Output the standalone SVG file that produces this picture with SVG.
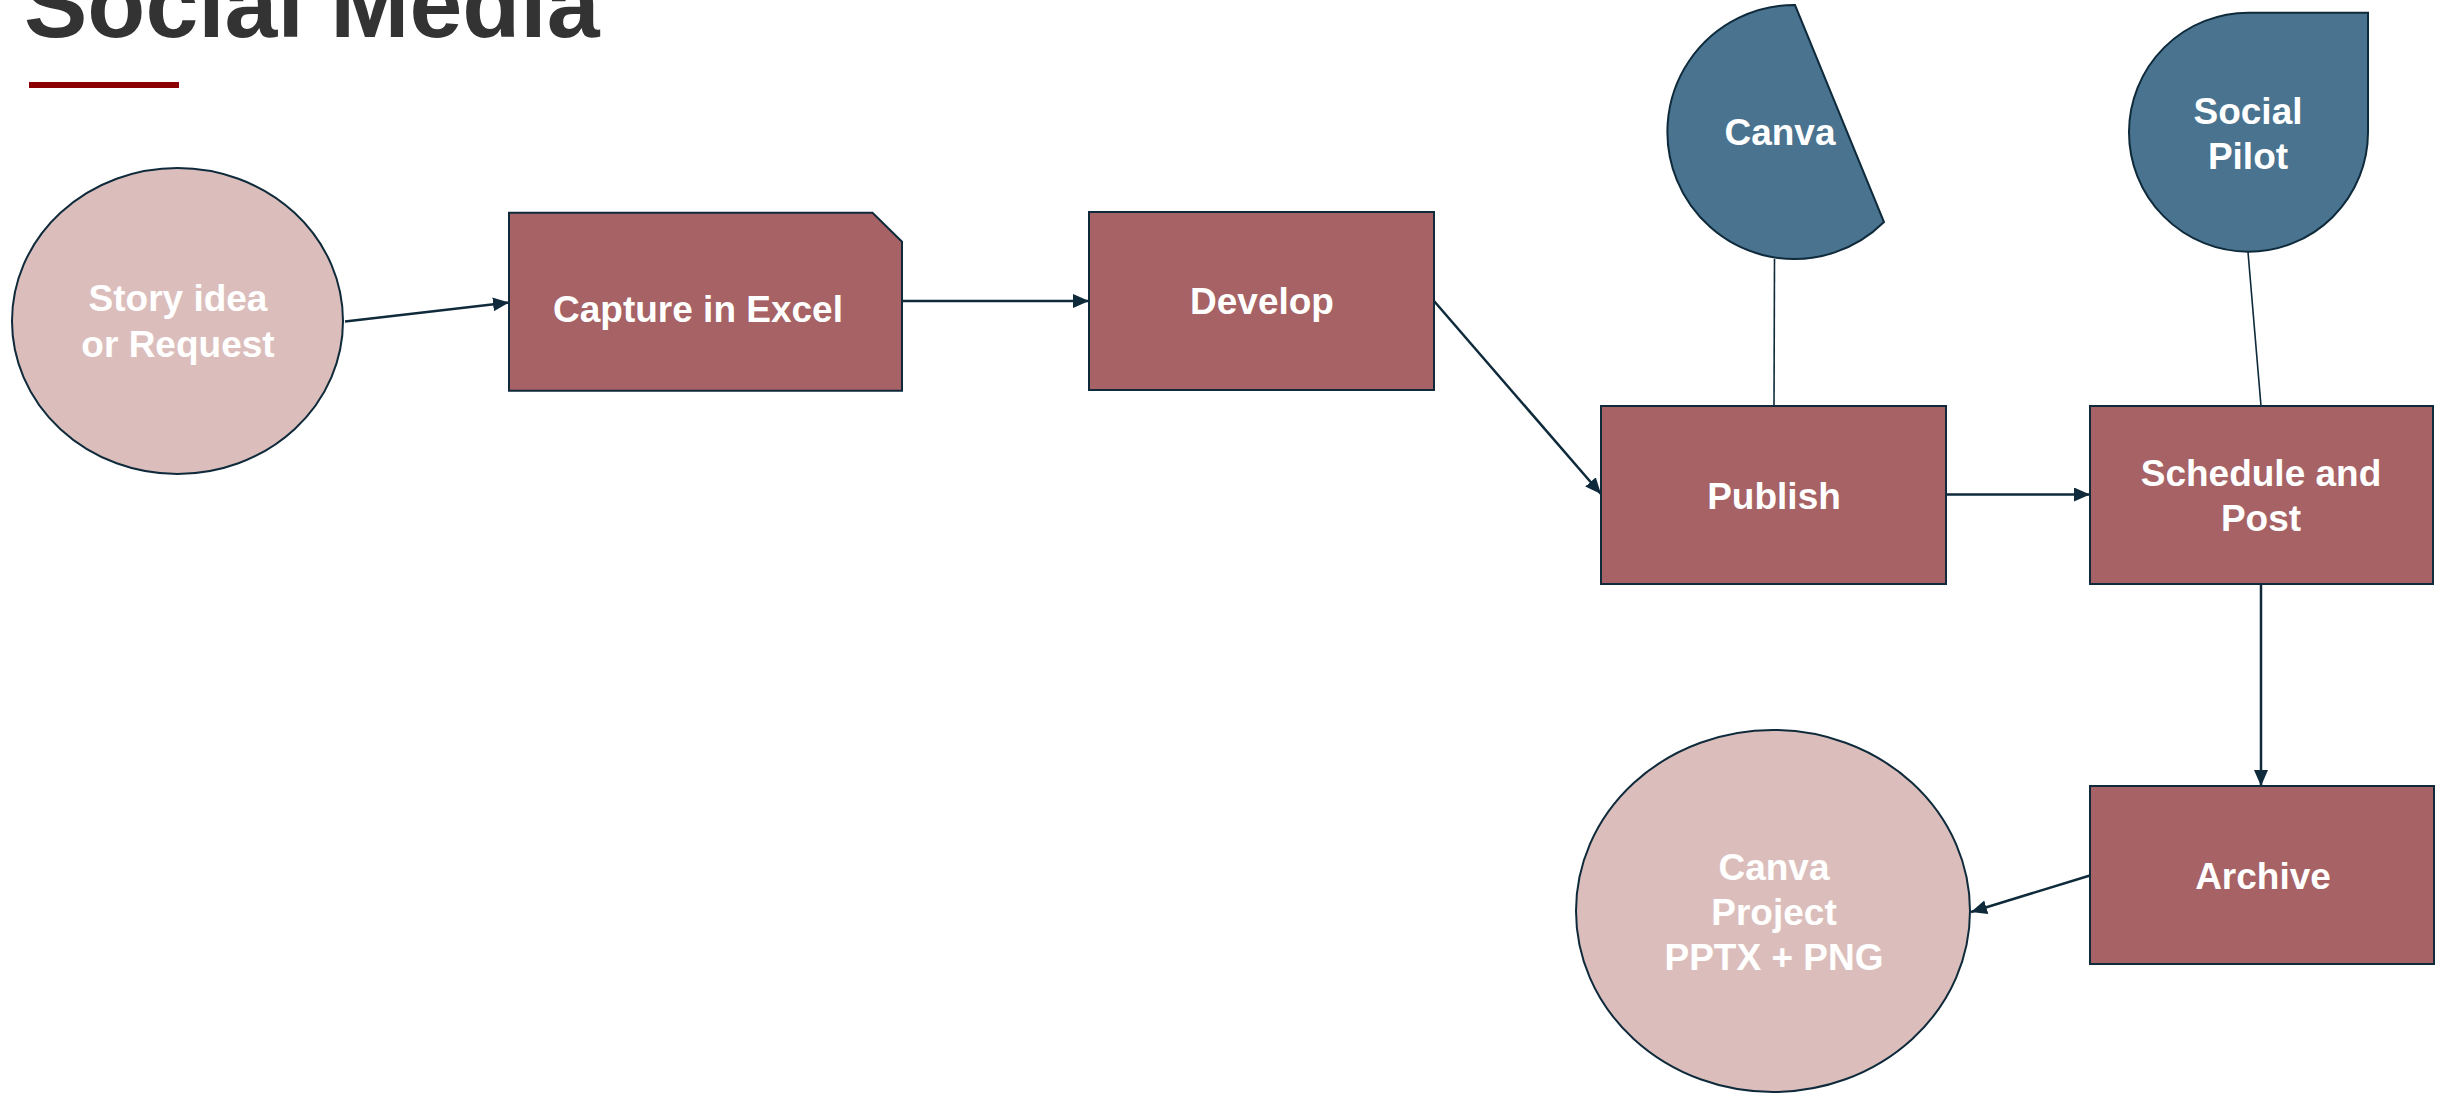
<svg xmlns="http://www.w3.org/2000/svg" width="2447" height="1096" viewBox="0 0 2447 1096">
  <style>
    .title { font-family: "Liberation Sans", Arial, sans-serif; font-weight: bold; font-size: 95px; fill: #333333; }
    .lbl { font-family: "Liberation Sans", Arial, sans-serif; font-weight: bold; font-size: 37px; fill: #ffffff; text-anchor: middle; }
    .proc { fill: #A66264; stroke: #0E2A3B; stroke-width: 2; }
    .term { fill: #DBBEBB; stroke: #0E2A3B; stroke-width: 2; }
    .tool { fill: #49738F; stroke: #0E2A3B; stroke-width: 2; }
    .conn { stroke: #0E2A3B; stroke-width: 2.5; fill: none; }
    .thin { stroke: #0E2A3B; stroke-width: 1.6; fill: none; }
  </style>
  <defs>
    <marker id="arr" markerUnits="userSpaceOnUse" markerWidth="18" markerHeight="16" refX="16" refY="7" orient="auto">
      <path d="M0,0 L16,7 L0,14 Z" fill="#0E2A3B"/>
    </marker>
  </defs>
  <rect width="2447" height="1096" fill="#ffffff"/>

  <g id="title">
    <text class="title" x="24" y="37">Social Media</text>
    <rect x="29" y="82" width="150" height="6" fill="#8B0000"/>
  </g>

  <g id="connectors">
    <line class="conn" x1="345" y1="321.5" x2="509" y2="302.5" marker-end="url(#arr)"/>
    <line class="conn" x1="902" y1="301" x2="1089" y2="301" marker-end="url(#arr)"/>
    <line class="conn" x1="1434" y1="301" x2="1601" y2="494" marker-end="url(#arr)"/>
    <line class="conn" x1="1946" y1="494.5" x2="2090" y2="494.5" marker-end="url(#arr)"/>
    <line class="conn" x1="2261" y1="584" x2="2261" y2="786" marker-end="url(#arr)"/>
    <line class="conn" x1="2090" y1="875.5" x2="1971" y2="912" marker-end="url(#arr)"/>
    <line class="thin" x1="1774.5" y1="259" x2="1774" y2="406"/>
    <line class="thin" x1="2248" y1="252" x2="2261" y2="406"/>
  </g>

  <g id="story">
    <ellipse class="term" cx="177.5" cy="321" rx="165.5" ry="153"/>
    <text class="lbl" x="178" y="311">Story idea</text>
    <text class="lbl" x="178" y="357">or Request</text>
  </g>

  <g id="capture">
    <path class="proc" d="M509,212.7 L872.5,212.7 L902,241.7 L902,390.7 L509,390.7 Z"/>
    <text class="lbl" x="698" y="322">Capture in Excel</text>
  </g>

  <g id="develop">
    <rect class="proc" x="1089" y="212" width="345" height="178"/>
    <text class="lbl" x="1262" y="314">Develop</text>
  </g>

  <g id="publish">
    <rect class="proc" x="1601" y="406" width="345" height="178"/>
    <text class="lbl" x="1774" y="509">Publish</text>
  </g>

  <g id="schedule">
    <rect class="proc" x="2090" y="406" width="343" height="178"/>
    <text class="lbl" x="2261" y="486">Schedule and</text>
    <text class="lbl" x="2261" y="531">Post</text>
  </g>

  <g id="archive">
    <rect class="proc" x="2090" y="786" width="344" height="178"/>
    <text class="lbl" x="2263" y="889">Archive</text>
  </g>

  <g id="canva-project">
    <ellipse class="term" cx="1773" cy="911" rx="197" ry="181"/>
    <text class="lbl" x="1774" y="880">Canva</text>
    <text class="lbl" x="1774" y="925">Project</text>
    <text class="lbl" x="1774" y="970">PPTX + PNG</text>
  </g>

  <g id="canva">
    <path class="tool" d="M1795,5 A127,127 0 1 0 1884,222 Z"/>
    <text class="lbl" x="1780" y="145">Canva</text>
  </g>

  <g id="social-pilot">
    <path class="tool" d="M2249,12.7 L2368,12.7 L2368,132.5 A119.5,119.5 0 1 1 2249,12.7 Z"/>
    <text class="lbl" x="2248" y="124">Social</text>
    <text class="lbl" x="2248" y="169">Pilot</text>
  </g>
</svg>
